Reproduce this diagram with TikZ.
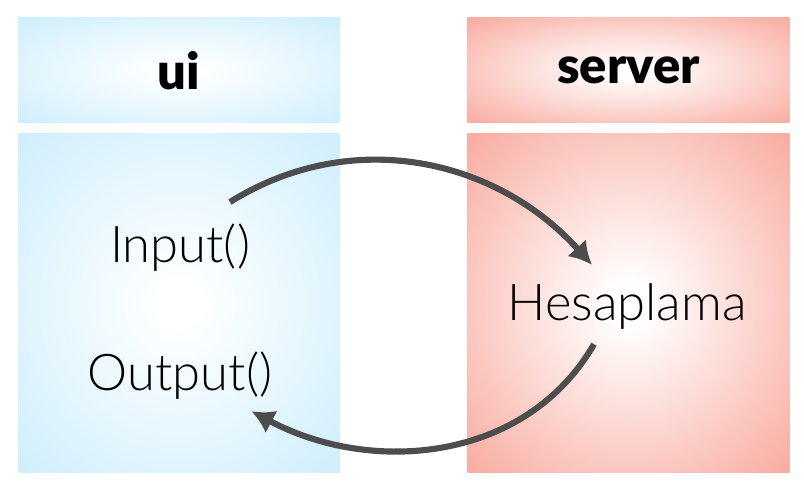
\documentclass[tikz,border=0pt]{standalone}
\usepackage{fontspec}
\setmainfont{Lato}[UprightFont=* Light,BoldFont=* Black]
\usetikzlibrary{arrows.meta,positioning}
\definecolor{uiblue}{HTML}{CDEEFC}
\definecolor{srvred}{HTML}{F8AA9E}
\definecolor{flowgray}{HTML}{4D4D4D}
\pgfdeclareradialshading{uisoft}{\pgfpointorigin}{color(0bp)=(white); color(3bp)=(white); color(36bp)=(uiblue); color(50bp)=(uiblue)}
\pgfdeclareradialshading{srvsoft}{\pgfpointorigin}{color(0bp)=(white); color(3bp)=(white); color(36bp)=(srvred); color(50bp)=(srvred)}

\begin{document}
\begin{tikzpicture}[x=0.75pt,y=0.75pt,>={Latex[length=17pt,width=19pt]},
  font=\fontsize{38}{44}\selectfont]
\tikzstyle{uipart}=[shading=uisoft,minimum width=241.5pt,inner sep=0pt]
\tikzstyle{srvpart}=[shading=srvsoft,minimum width=241.5pt,inner sep=0pt]
\tikzstyle{head}=[minimum height=78.75pt]
\tikzstyle{body}=[minimum height=254.25pt]
\tikzstyle{flow}=[->,draw=flowgray,line width=4.6pt]
\useasboundingbox (0,0) rectangle (804,490);
% the two columns
\node[uipart,head] (ui) at (179,419.5) {\bfseries ui};
\node[uipart,body,below=7.5pt of ui] (uibody) {};
\node[srvpart,head,right=95.25pt of ui] (server) {\bfseries server};
\node[srvpart,body,below=7.5pt of server] (srvbody) {};
% texts
\node[anchor=base,inner sep=0pt] (inp) at (180,228) {Input()};
\node[anchor=base,inner sep=0pt] (outp) at (180,100) {Output()};
\node[anchor=base,inner sep=0pt] (calc) at (627,170) {Hesaplama};
% flow
\draw[flow] ([shift={(50,21)}]inp.north) to[out=32,in=132] ([shift={(-35,18)}]calc.north);
\draw[flow] ([shift={(-33,-15)}]calc.south) to[out=240,in=-28] ([shift={(-21,-12)}]outp.south east);
\end{tikzpicture}
\end{document}
